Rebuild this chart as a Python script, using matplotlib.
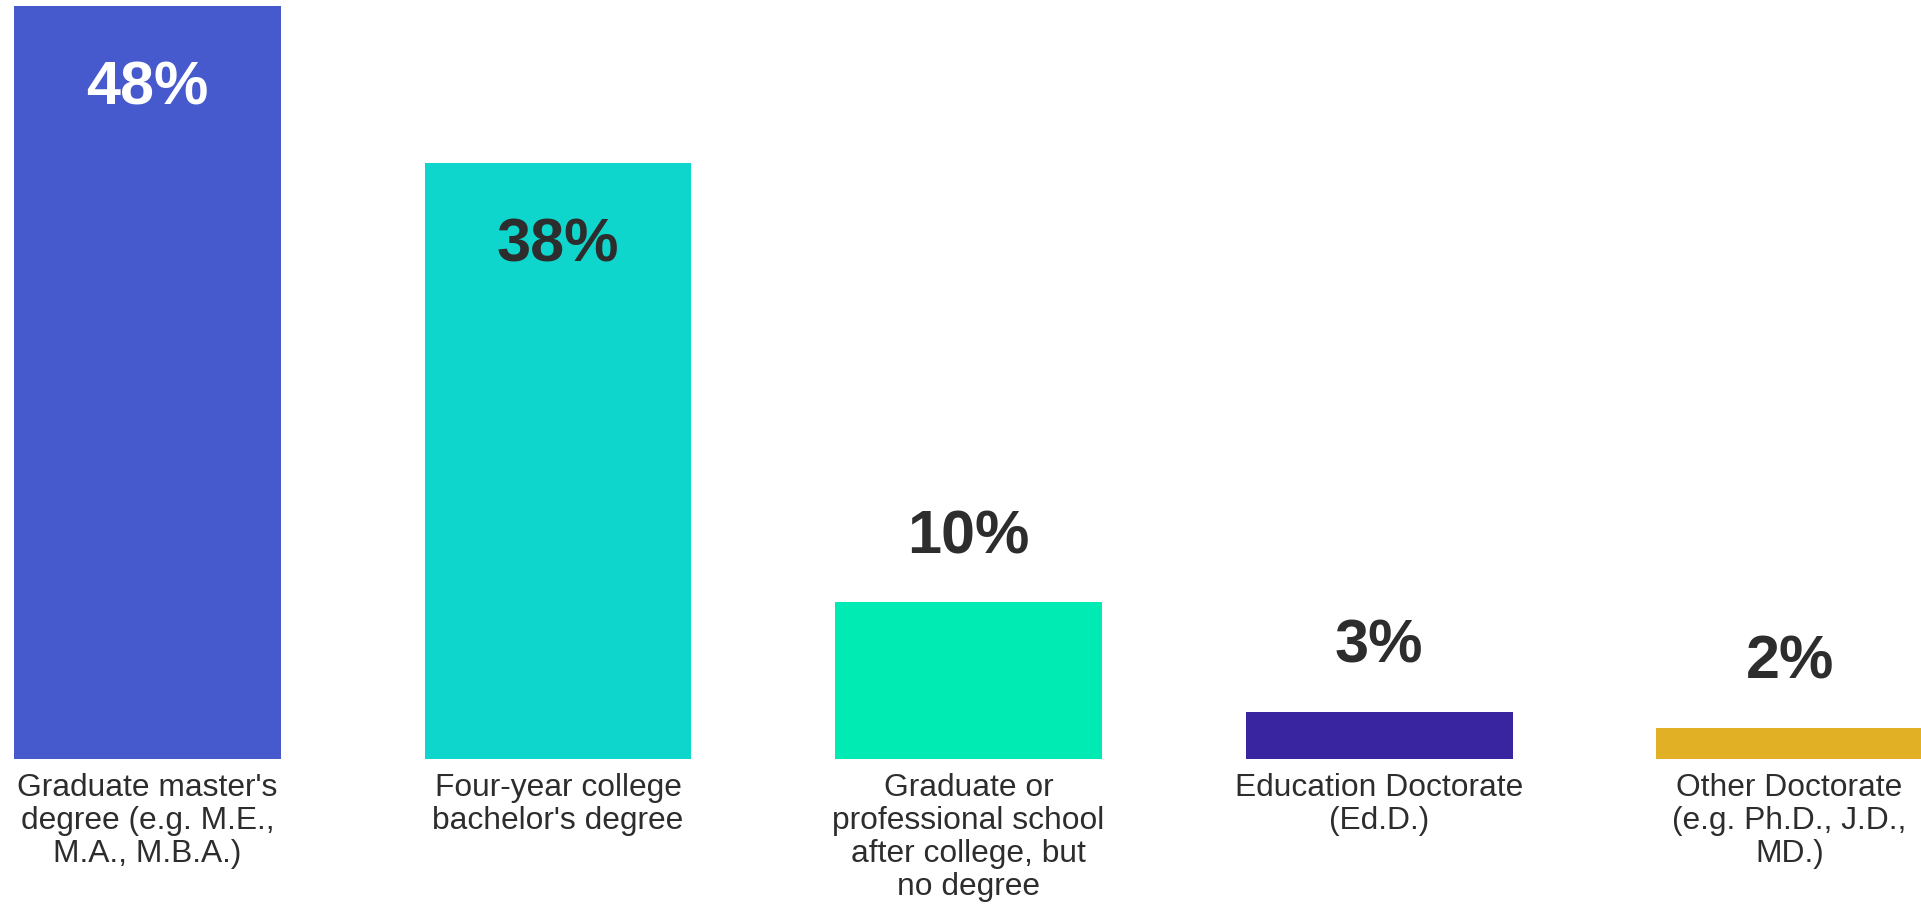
import matplotlib.pyplot as plt

# Dữ liệu
categories = [
    "Graduate master's\ndegree (e.g. M.E.,\nM.A., M.B.A.)",
    "Four-year college\nbachelor's degree",
    "Graduate or\nprofessional school\nafter college, but\nno degree",
    "Education Doctorate\n(Ed.D.)",
    "Other Doctorate\n(e.g. Ph.D., J.D.,\nMD.)",
]
values = [48, 38, 10, 3, 2]
labels = ["48%", "38%", "10%", "3%", "2%"]
colors = ["#4659CD", "#0FD6CC", "#00EAB4", "#38259F", "#E2B024"]
label_colors = ["white", "#2D2D2D", "#2D2D2D", "#2D2D2D", "#2D2D2D"]
inside = [True, True, False, False, False]

plt.rcParams['font.family'] = ['Liberation Sans', 'DejaVu Sans']

fig = plt.figure(figsize=(19.21, 9.05), dpi=100)
ax = fig.add_axes([14 / 1921, (905 - 759) / 905, (1921 - 14) / 1921, 753 / 905])

x = list(range(len(values)))
bars = ax.bar(x, values, width=0.65, color=colors)

# Nhãn phần trăm
for xi, v, lab, c, ins in zip(x, values, labels, label_colors, inside):
    off = -59.5 if ins else 46.5
    ax.annotate(lab, (xi, v), xytext=(0, off), textcoords="offset points",
                ha="center", va="center", fontsize=44, fontweight="bold", color=c)

ax.set_xlim(-0.325, 4.32)
ax.set_ylim(0, 48)
ax.set_xticks(x)
ax.set_xticklabels(categories, fontsize=22.9, color="#2D2D2D", linespacing=1.13)
ax.tick_params(axis="x", length=0, pad=10)
ax.set_yticks([])
for s in ax.spines.values():
    s.set_visible(False)

fig.savefig("out.png", dpi=100)
